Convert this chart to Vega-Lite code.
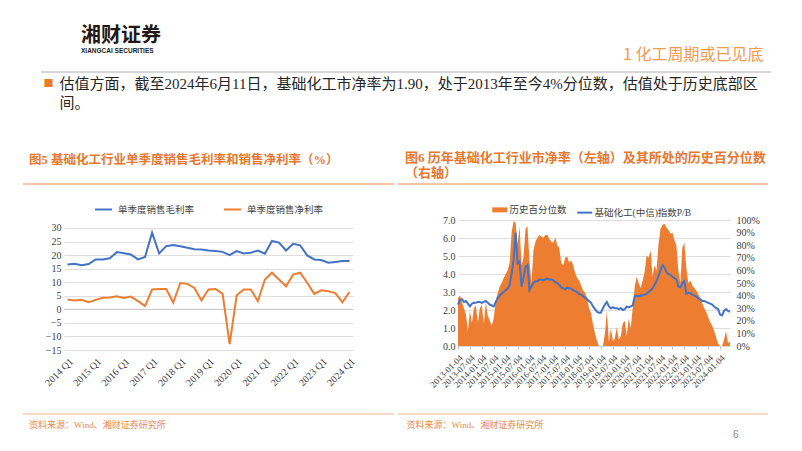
{
  "$schema": "https://vega.github.io/schema/vega-lite/v6.json",
  "background": "white",
  "padding": {"left": 22, "top": 26, "right": 0, "bottom": 0},
  "config": {
    "view": {"stroke": null},
    "font": "Liberation Serif, Noto Sans CJK SC",
    "axis": {"labelFont": "Liberation Serif", "labelFontSize": 10, "labelColor": "#404040", "titleFont": "Liberation Serif, Noto Sans CJK SC", "labelOverlap": false},
    "legend": {"labelColor": "#404040"}
  },
  "spacing": 42,
  "resolve": {"scale": {"color": "independent"}, "legend": {"color": "independent"}},
  "vconcat": [
    {
      "width": 748,
      "height": 1,
      "data": {"values": [{}]},
      "title": {"text": "湘财证券", "subtitle": "XIANGCAI SECURITIES", "anchor": "start", "frame": "group", "orient": "top", "offset": -8.5, "dx": 58, "font": "Noto Sans CJK SC", "fontSize": 20, "fontWeight": "bold", "color": "#231815", "subtitleFont": "Liberation Sans", "subtitleFontSize": 6.5, "subtitleFontWeight": "bold", "subtitleColor": "#231815", "subtitlePadding": 2},
      "layer": [
        {
          "mark": {"type": "rule", "color": "#C9C9C9", "strokeWidth": 1.5},
          "encoding": {
            "x": {"datum": 0, "type": "quantitative", "scale": {"domain": [0, 1], "range": [18, 748]}, "axis": {"orient": "top", "domain": false, "ticks": false, "labels": false, "grid": false, "title": "1 化工周期或已见底", "titleX": 740, "titleY": -13, "titleAlign": "right", "titleBaseline": "alphabetic", "titleAnchor": "end", "titleFont": "Noto Sans CJK SC", "titleFontSize": 16, "titleFontWeight": "normal", "titleColor": "#F39A4E"}},
            "x2": {"datum": 1},
            "y": {"datum": 1, "type": "quantitative", "scale": {"domain": [0, 1]}, "axis": {"orient": "left", "domain": false, "ticks": false, "labels": false, "grid": false, "title": "■", "titleAngle": 0, "titleX": 20, "titleY": 11, "titleAlign": "left", "titleBaseline": "middle", "titleFont": "Noto Sans CJK SC", "titleFontSize": 10, "titleFontWeight": "normal", "titleColor": "#F07C22"}}
          }
        },
        {
          "mark": {"type": "rule", "opacity": 0},
          "encoding": {
            "x": {"datum": 0, "type": "quantitative", "scale": {"domain": [0, 1]}, "axis": {"orient": "bottom", "domain": false, "ticks": false, "labels": false, "grid": false, "title": ["估值方面，截至2024年6月11日，基础化工市净率为1.90，处于2013年至今4%分位数，估值处于历史底部区", "间。"], "titleX": 36, "titleY": 3, "titleAlign": "left", "titleBaseline": "top", "titleAnchor": "start", "titleFontSize": 15, "titleFontWeight": "normal", "titleColor": "#262626", "titleLineHeight": 19, "titleLimit": 2000}},
            "x2": {"datum": 1},
            "y": {"datum": 1, "type": "quantitative"}
          }
        }
      ],
      "resolve": {"scale": {"x": "independent"}}
    },
    {
      "spacing": 2,
      "resolve": {"scale": {"color": "independent"}, "legend": {"color": "independent"}},
      "hconcat": [
        {
          "bounds": "flush",
          "center": true,
          "spacing": 0,
          "resolve": {"scale": {"color": "independent"}, "legend": {"color": "independent"}},
          "vconcat": [
            {
              "width": 371,
              "height": 36,
              "data": {"values": [{}]},
              "title": {"text": "图5 基础化工行业单季度销售毛利率和销售净利率（%）", "anchor": "start", "frame": "group", "offset": 17, "dx": 6, "fontSize": 12.5, "fontWeight": "bold", "color": "#E6782F", "font": "Liberation Serif, Noto Sans CJK SC"},
              "mark": {"type": "rule", "color": "#EB8D52", "strokeWidth": 1.2},
              "encoding": {
                "x": {"datum": 0, "type": "quantitative", "scale": {"domain": [0, 1]}, "axis": null},
                "x2": {"datum": 1},
                "y": {"datum": 1, "type": "quantitative", "scale": {"domain": [0, 1]}, "axis": null}
              }
            },
            {
              "width": 289,
              "height": 130,
              "layer": [
                {
                  "data": {"values": [{}]},
                  "mark": {"type": "rule", "color": "#C8C8C8", "strokeWidth": 1},
                  "encoding": {"y": {"datum": 0, "type": "quantitative", "scale": {"domain": [-15, 32.95], "nice": false, "zero": false}, "axis": {"values": [-15, -10, -5, 0, 5, 10, 15, 20, 25, 30], "labelOverlap": false, "domain": false, "ticks": false, "grid": true, "gridColor": "#DEDEDE", "labelPadding": 3, "title": null}}}
                },
                {
                  "data": {"values": [
                    {"q": "2014 Q1", "单季度销售毛利率": 16.5, "单季度销售净利率": 3.6},
                    {"q": "2014 Q2", "单季度销售毛利率": 16.8, "单季度销售净利率": 3.3},
                    {"q": "2014 Q3", "单季度销售毛利率": 16.3, "单季度销售净利率": 3.5},
                    {"q": "2014 Q4", "单季度销售毛利率": 16.7, "单季度销售净利率": 2.6},
                    {"q": "2015 Q1", "单季度销售毛利率": 18.4, "单季度销售净利率": 3.5},
                    {"q": "2015 Q2", "单季度销售毛利率": 18.4, "单季度销售净利率": 4.3},
                    {"q": "2015 Q3", "单季度销售毛利率": 18.8, "单季度销售净利率": 4.4},
                    {"q": "2015 Q4", "单季度销售毛利率": 21.1, "单季度销售净利率": 4.8},
                    {"q": "2016 Q1", "单季度销售毛利率": 20.7, "单季度销售净利率": 4.2},
                    {"q": "2016 Q2", "单季度销售毛利率": 20.2, "单季度销售净利率": 4.7},
                    {"q": "2016 Q3", "单季度销售毛利率": 18.4, "单季度销售净利率": 3.0},
                    {"q": "2016 Q4", "单季度销售毛利率": 19.3, "单季度销售净利率": 1.2},
                    {"q": "2017 Q1", "单季度销售毛利率": 28.3, "单季度销售净利率": 7.3},
                    {"q": "2017 Q2", "单季度销售毛利率": 20.6, "单季度销售净利率": 7.5},
                    {"q": "2017 Q3", "单季度销售毛利率": 23.3, "单季度销售净利率": 7.5},
                    {"q": "2017 Q4", "单季度销售毛利率": 23.7, "单季度销售净利率": 2.5},
                    {"q": "2018 Q1", "单季度销售毛利率": 23.3, "单季度销售净利率": 9.7},
                    {"q": "2018 Q2", "单季度销售毛利率": 22.7, "单季度销售净利率": 9.4},
                    {"q": "2018 Q3", "单季度销售毛利率": 22.2, "单季度销售净利率": 7.9},
                    {"q": "2018 Q4", "单季度销售毛利率": 22.1, "单季度销售净利率": 3.3},
                    {"q": "2019 Q1", "单季度销售毛利率": 21.7, "单季度销售净利率": 7.3},
                    {"q": "2019 Q2", "单季度销售毛利率": 21.5, "单季度销售净利率": 7.5},
                    {"q": "2019 Q3", "单季度销售毛利率": 21.2, "单季度销售净利率": 5.7},
                    {"q": "2019 Q4", "单季度销售毛利率": 20.0, "单季度销售净利率": -12.8},
                    {"q": "2020 Q1", "单季度销售毛利率": 21.5, "单季度销售净利率": 5.2},
                    {"q": "2020 Q2", "单季度销售毛利率": 20.6, "单季度销售净利率": 7.3},
                    {"q": "2020 Q3", "单季度销售毛利率": 20.9, "单季度销售净利率": 7.3},
                    {"q": "2020 Q4", "单季度销售毛利率": 21.7, "单季度销售净利率": 3.0},
                    {"q": "2021 Q1", "单季度销售毛利率": 20.5, "单季度销售净利率": 11.0},
                    {"q": "2021 Q2", "单季度销售毛利率": 25.2, "单季度销售净利率": 13.5},
                    {"q": "2021 Q3", "单季度销售毛利率": 24.6, "单季度销售净利率": 11.0},
                    {"q": "2021 Q4", "单季度销售毛利率": 21.7, "单季度销售净利率": 8.5},
                    {"q": "2022 Q1", "单季度销售毛利率": 24.2, "单季度销售净利率": 12.8},
                    {"q": "2022 Q2", "单季度销售毛利率": 23.6, "单季度销售净利率": 13.5},
                    {"q": "2022 Q3", "单季度销售毛利率": 19.9, "单季度销售净利率": 9.8},
                    {"q": "2022 Q4", "单季度销售毛利率": 18.4, "单季度销售净利率": 5.7},
                    {"q": "2023 Q1", "单季度销售毛利率": 18.2, "单季度销售净利率": 7.0},
                    {"q": "2023 Q2", "单季度销售毛利率": 17.2, "单季度销售净利率": 6.7},
                    {"q": "2023 Q3", "单季度销售毛利率": 17.5, "单季度销售净利率": 6.0},
                    {"q": "2023 Q4", "单季度销售毛利率": 17.8, "单季度销售净利率": 2.6},
                    {"q": "2024 Q1", "单季度销售毛利率": 17.8, "单季度销售净利率": 6.4}
                  ]},
                  "transform": [{"fold": ["单季度销售毛利率", "单季度销售净利率"], "as": ["s", "v"]}],
                  "mark": {"type": "line", "strokeWidth": 2},
                  "encoding": {
                    "x": {"field": "q", "type": "ordinal", "sort": null, "scale": {"type": "point", "padding": 0.5}, "axis": {"values": ["2014 Q1", "2015 Q1", "2016 Q1", "2017 Q1", "2018 Q1", "2019 Q1", "2020 Q1", "2021 Q1", "2022 Q1", "2023 Q1", "2024 Q1"], "labelAngle": -45, "labelPadding": 6, "labelOverlap": false, "domain": false, "ticks": false, "grid": false, "title": null}},
                    "y": {"field": "v", "type": "quantitative", "scale": {"domain": [-15, 32.95], "nice": false, "zero": false}, "axis": {"values": [-15, -10, -5, 0, 5, 10, 15, 20, 25, 30], "labelOverlap": false, "domain": false, "ticks": false, "grid": true, "gridColor": "#DEDEDE", "labelPadding": 3, "title": null}},
                    "color": {"field": "s", "type": "nominal", "scale": {"domain": ["单季度销售毛利率", "单季度销售净利率"], "range": ["#4472C4", "#ED7D31"]}, "legend": {"orient": "none", "legendX": 30, "legendY": -20, "direction": "horizontal", "title": null, "symbolType": "stroke", "symbolStrokeWidth": 2, "symbolSize": 289, "labelFont": "Noto Sans CJK SC", "labelFontSize": 9.5, "labelOffset": 5, "columnPadding": 25}}
                  }
                }
              ]
            },
            {
              "width": 371,
              "height": 64,
              "data": {"values": [{}]},
              "title": {"text": "资料来源：Wind、湘财证券研究所", "orient": "bottom", "anchor": "start", "frame": "group", "offset": 6, "dx": 6, "fontSize": 9, "fontWeight": "normal", "color": "#E9894A", "font": "Liberation Serif, Noto Sans CJK SC"},
              "mark": {"type": "rule", "color": "#F2B48C", "strokeWidth": 1.2},
              "encoding": {
                "x": {"datum": 0, "type": "quantitative", "scale": {"domain": [0, 1]}, "axis": null},
                "x2": {"datum": 1},
                "y": {"datum": 0, "type": "quantitative", "scale": {"domain": [0, 1]}, "axis": null}
              }
            }
          ]
        },
        {
          "bounds": "flush",
          "center": true,
          "spacing": 0,
          "resolve": {"scale": {"color": "independent"}, "legend": {"color": "independent"}},
          "vconcat": [
            {
              "width": 392,
              "height": 36,
              "data": {"values": [{}]},
              "title": {"text": ["图6 历年基础化工行业市净率（左轴）及其所处的历史百分位数", "（右轴）"], "anchor": "start", "frame": "group", "offset": 3, "dx": 7, "lineHeight": 15, "fontSize": 13, "fontWeight": "bold", "color": "#E6782F", "font": "Liberation Serif, Noto Sans CJK SC"},
              "mark": {"type": "rule", "color": "#EB8D52", "strokeWidth": 1.2},
              "encoding": {
                "x": {"datum": 0, "type": "quantitative", "scale": {"domain": [0, 1], "range": [0, 370]}, "axis": null},
                "x2": {"datum": 1},
                "y": {"datum": 1, "type": "quantitative", "scale": {"domain": [0, 1]}, "axis": null}
              }
            },
            {
              "width": 272,
              "height": 126,
              "data": {"values": [
                {"d": "2013-01-04", "pb": 2.3, "pct": 0.38},
                {"d": "2013-02-04", "pb": 2.55, "pct": 0.40},
                {"d": "2013-03-04", "pb": 2.6, "pct": 0.35},
                {"d": "2013-04-04", "pb": 2.45, "pct": 0.30},
                {"d": "2013-05-04", "pb": 2.5, "pct": 0.25},
                {"d": "2013-06-04", "pb": 2.35, "pct": 0.12},
                {"d": "2013-07-04", "pb": 2.2, "pct": 0.28},
                {"d": "2013-08-04", "pb": 2.35, "pct": 0.18},
                {"d": "2013-09-04", "pb": 2.4, "pct": 0.30},
                {"d": "2013-10-04", "pb": 2.4, "pct": 0.32},
                {"d": "2013-11-04", "pb": 2.45, "pct": 0.18},
                {"d": "2013-12-04", "pb": 2.45, "pct": 0.30},
                {"d": "2014-01-04", "pb": 2.4, "pct": 0.33},
                {"d": "2014-02-04", "pb": 2.45, "pct": 0.17},
                {"d": "2014-03-04", "pb": 2.5, "pct": 0.35},
                {"d": "2014-04-04", "pb": 2.4, "pct": 0.24},
                {"d": "2014-05-04", "pb": 2.3, "pct": 0.20},
                {"d": "2014-06-04", "pb": 2.25, "pct": 0.16},
                {"d": "2014-07-04", "pb": 2.2, "pct": 0.22},
                {"d": "2014-08-04", "pb": 2.45, "pct": 0.36},
                {"d": "2014-09-04", "pb": 2.65, "pct": 0.42},
                {"d": "2014-10-04", "pb": 2.8, "pct": 0.47},
                {"d": "2014-11-04", "pb": 2.9, "pct": 0.50},
                {"d": "2014-12-04", "pb": 3.0, "pct": 0.54},
                {"d": "2015-01-04", "pb": 3.1, "pct": 0.57},
                {"d": "2015-02-04", "pb": 3.2, "pct": 0.60},
                {"d": "2015-03-04", "pb": 3.4, "pct": 0.66},
                {"d": "2015-04-04", "pb": 4.0, "pct": 0.90},
                {"d": "2015-05-04", "pb": 4.8, "pct": 0.99},
                {"d": "2015-06-04", "pb": 6.3, "pct": 0.98},
                {"d": "2015-07-04", "pb": 4.6, "pct": 0.80},
                {"d": "2015-08-04", "pb": 4.7, "pct": 0.95},
                {"d": "2015-09-04", "pb": 3.3, "pct": 0.64},
                {"d": "2015-10-04", "pb": 3.8, "pct": 0.70},
                {"d": "2015-11-04", "pb": 4.4, "pct": 0.93},
                {"d": "2015-12-04", "pb": 4.5, "pct": 0.95},
                {"d": "2016-01-04", "pb": 3.1, "pct": 0.68},
                {"d": "2016-02-04", "pb": 3.3, "pct": 0.50},
                {"d": "2016-03-04", "pb": 3.5, "pct": 0.76},
                {"d": "2016-04-04", "pb": 3.6, "pct": 0.83},
                {"d": "2016-05-04", "pb": 3.6, "pct": 0.86},
                {"d": "2016-06-04", "pb": 3.7, "pct": 0.88},
                {"d": "2016-07-04", "pb": 3.7, "pct": 0.87},
                {"d": "2016-08-04", "pb": 3.65, "pct": 0.86},
                {"d": "2016-09-04", "pb": 3.7, "pct": 0.88},
                {"d": "2016-10-04", "pb": 3.75, "pct": 0.88},
                {"d": "2016-11-04", "pb": 3.7, "pct": 0.85},
                {"d": "2016-12-04", "pb": 3.7, "pct": 0.83},
                {"d": "2017-01-04", "pb": 3.65, "pct": 0.82},
                {"d": "2017-02-04", "pb": 3.55, "pct": 0.86},
                {"d": "2017-03-04", "pb": 3.5, "pct": 0.80},
                {"d": "2017-04-04", "pb": 3.4, "pct": 0.78},
                {"d": "2017-05-04", "pb": 3.25, "pct": 0.66},
                {"d": "2017-06-04", "pb": 3.2, "pct": 0.64},
                {"d": "2017-07-04", "pb": 3.15, "pct": 0.70},
                {"d": "2017-08-04", "pb": 3.25, "pct": 0.71},
                {"d": "2017-09-04", "pb": 3.2, "pct": 0.66},
                {"d": "2017-10-04", "pb": 3.2, "pct": 0.68},
                {"d": "2017-11-04", "pb": 3.1, "pct": 0.64},
                {"d": "2017-12-04", "pb": 3.05, "pct": 0.58},
                {"d": "2018-01-04", "pb": 3.0, "pct": 0.54},
                {"d": "2018-02-04", "pb": 2.9, "pct": 0.52},
                {"d": "2018-03-04", "pb": 2.85, "pct": 0.48},
                {"d": "2018-04-04", "pb": 2.75, "pct": 0.44},
                {"d": "2018-05-04", "pb": 2.7, "pct": 0.42},
                {"d": "2018-06-04", "pb": 2.6, "pct": 0.38},
                {"d": "2018-07-04", "pb": 2.5, "pct": 0.30},
                {"d": "2018-08-04", "pb": 2.4, "pct": 0.26},
                {"d": "2018-09-04", "pb": 2.2, "pct": 0.17},
                {"d": "2018-10-04", "pb": 2.05, "pct": 0.10},
                {"d": "2018-11-04", "pb": 1.9, "pct": 0.04},
                {"d": "2018-12-04", "pb": 1.85, "pct": 0.0},
                {"d": "2019-01-04", "pb": 1.85, "pct": 0.0},
                {"d": "2019-02-04", "pb": 2.1, "pct": 0.0},
                {"d": "2019-03-04", "pb": 2.3, "pct": 0.10},
                {"d": "2019-04-04", "pb": 2.45, "pct": 0.28},
                {"d": "2019-05-04", "pb": 2.2, "pct": 0.03},
                {"d": "2019-06-04", "pb": 2.1, "pct": 0.14},
                {"d": "2019-07-04", "pb": 2.15, "pct": 0.04},
                {"d": "2019-08-04", "pb": 2.1, "pct": 0.06},
                {"d": "2019-09-04", "pb": 2.1, "pct": 0.15},
                {"d": "2019-10-04", "pb": 2.05, "pct": 0.05},
                {"d": "2019-11-04", "pb": 2.1, "pct": 0.08},
                {"d": "2019-12-04", "pb": 2.0, "pct": 0.18},
                {"d": "2020-01-04", "pb": 2.05, "pct": 0.20},
                {"d": "2020-02-04", "pb": 2.2, "pct": 0.08},
                {"d": "2020-03-04", "pb": 2.15, "pct": 0.22},
                {"d": "2020-04-04", "pb": 2.2, "pct": 0.14},
                {"d": "2020-05-04", "pb": 2.25, "pct": 0.30},
                {"d": "2020-06-04", "pb": 2.75, "pct": 0.47},
                {"d": "2020-07-04", "pb": 2.8, "pct": 0.55},
                {"d": "2020-08-04", "pb": 2.75, "pct": 0.50},
                {"d": "2020-09-04", "pb": 2.8, "pct": 0.46},
                {"d": "2020-10-04", "pb": 2.8, "pct": 0.52},
                {"d": "2020-11-04", "pb": 2.85, "pct": 0.59},
                {"d": "2020-12-04", "pb": 2.9, "pct": 0.72},
                {"d": "2021-01-04", "pb": 3.0, "pct": 0.70},
                {"d": "2021-02-04", "pb": 3.1, "pct": 0.76},
                {"d": "2021-03-04", "pb": 3.2, "pct": 0.55},
                {"d": "2021-04-04", "pb": 3.4, "pct": 0.64},
                {"d": "2021-05-04", "pb": 3.6, "pct": 0.60},
                {"d": "2021-06-04", "pb": 3.9, "pct": 0.81},
                {"d": "2021-07-04", "pb": 4.2, "pct": 0.93},
                {"d": "2021-08-04", "pb": 4.5, "pct": 0.96},
                {"d": "2021-09-04", "pb": 4.35, "pct": 0.97},
                {"d": "2021-10-04", "pb": 4.1, "pct": 0.94},
                {"d": "2021-11-04", "pb": 4.0, "pct": 0.92},
                {"d": "2021-12-04", "pb": 3.95, "pct": 0.89},
                {"d": "2022-01-04", "pb": 3.85, "pct": 0.90},
                {"d": "2022-02-04", "pb": 3.75, "pct": 0.84},
                {"d": "2022-03-04", "pb": 3.7, "pct": 0.80},
                {"d": "2022-04-04", "pb": 3.3, "pct": 0.60},
                {"d": "2022-05-04", "pb": 3.25, "pct": 0.50},
                {"d": "2022-06-04", "pb": 3.5, "pct": 0.78},
                {"d": "2022-07-04", "pb": 3.6, "pct": 0.82},
                {"d": "2022-08-04", "pb": 2.9, "pct": 0.62},
                {"d": "2022-09-04", "pb": 2.95, "pct": 0.50},
                {"d": "2022-10-04", "pb": 2.95, "pct": 0.52},
                {"d": "2022-11-04", "pb": 2.85, "pct": 0.48},
                {"d": "2022-12-04", "pb": 2.8, "pct": 0.46},
                {"d": "2023-01-04", "pb": 2.75, "pct": 0.44},
                {"d": "2023-02-04", "pb": 2.65, "pct": 0.41},
                {"d": "2023-03-04", "pb": 2.6, "pct": 0.38},
                {"d": "2023-04-04", "pb": 2.5, "pct": 0.34},
                {"d": "2023-05-04", "pb": 2.5, "pct": 0.30},
                {"d": "2023-06-04", "pb": 2.45, "pct": 0.27},
                {"d": "2023-07-04", "pb": 2.4, "pct": 0.23},
                {"d": "2023-08-04", "pb": 2.35, "pct": 0.19},
                {"d": "2023-09-04", "pb": 2.3, "pct": 0.16},
                {"d": "2023-10-04", "pb": 2.2, "pct": 0.12},
                {"d": "2023-11-04", "pb": 2.1, "pct": 0.07},
                {"d": "2023-12-04", "pb": 2.05, "pct": 0.02},
                {"d": "2024-01-04", "pb": 1.75, "pct": 0.0},
                {"d": "2024-02-04", "pb": 1.7, "pct": 0.0},
                {"d": "2024-03-04", "pb": 1.95, "pct": 0.05},
                {"d": "2024-04-04", "pb": 2.05, "pct": 0.12},
                {"d": "2024-05-04", "pb": 1.95, "pct": 0.02},
                {"d": "2024-06-11", "pb": 1.9, "pct": 0.04}
              ]},
              "layer": [
                {
                  "mark": {"type": "area"},
                  "encoding": {
                    "x": {"field": "d", "type": "ordinal", "sort": null, "scale": {"type": "point", "padding": 0}, "axis": {"values": ["2013-01-04", "2013-07-04", "2014-01-04", "2014-07-04", "2015-01-04", "2015-07-04", "2016-01-04", "2016-07-04", "2017-01-04", "2017-07-04", "2018-01-04", "2018-07-04", "2019-01-04", "2019-07-04", "2020-01-04", "2020-07-04", "2021-01-04", "2021-07-04", "2022-01-04", "2022-07-04", "2023-01-04", "2023-07-04", "2024-01-04"], "labelAngle": -45, "labelFontSize": 9, "labelPadding": 4, "labelOverlap": false, "domain": true, "domainColor": "#D9D9D9", "ticks": true, "tickSize": 3, "tickColor": "#BFBFBF", "grid": false, "title": null}},
                    "y": {"field": "pct", "type": "quantitative", "scale": {"domain": [0, 1], "nice": false}, "axis": {"orient": "right", "values": [0, 0.1, 0.2, 0.3, 0.4, 0.5, 0.6, 0.7, 0.8, 0.9, 1], "format": ".0%", "labelOverlap": false, "grid": false, "domain": false, "ticks": false, "labelPadding": 6, "title": null}},
                    "color": {"datum": "历史百分位数", "type": "nominal", "scale": {"domain": ["历史百分位数", "基础化工(中信)指数P/B"], "range": ["#ED7D31", "#4472C4"]}, "legend": {"orient": "none", "legendX": 37, "legendY": -15, "direction": "horizontal", "title": null, "symbolType": "stroke", "symbolSize": 225, "symbolStrokeWidth": 2, "labelFont": "Liberation Serif, Noto Sans CJK SC", "labelFontSize": 9.5, "labelOffset": 5, "columnPadding": 6, "encode": {"symbols": {"update": {"strokeWidth": {"signal": "datum.value === '历史百分位数' ? 5 : 2"}, "stroke": {"scale": "color", "field": "value"}}}}}}
                  }
                },
                {
                  "mark": {"type": "line", "strokeWidth": 2},
                  "encoding": {
                    "x": {"field": "d", "type": "ordinal", "sort": null},
                    "y": {"field": "pb", "type": "quantitative", "scale": {"domain": [0, 7], "nice": false}, "axis": {"orient": "left", "values": [0, 1, 2, 3, 4, 5, 6, 7], "format": ".1f", "labelOverlap": false, "grid": true, "gridColor": "#DEDEDE", "domain": false, "ticks": false, "labelPadding": 3, "title": null}},
                    "color": {"datum": "基础化工(中信)指数P/B", "type": "nominal"}
                  }
                }
              ],
              "resolve": {"scale": {"y": "independent"}}
            },
            {
              "width": 392,
              "height": 68,
              "data": {"values": [{}]},
              "title": {"text": "6", "orient": "bottom", "anchor": "start", "frame": "group", "offset": 1, "dx": 335, "fontSize": 10, "fontWeight": "normal", "color": "#8C8C8C", "font": "Liberation Sans"},
              "mark": {"type": "rule", "color": "#F2B48C", "strokeWidth": 1.2},
              "encoding": {
                "x": {"datum": 0, "type": "quantitative", "scale": {"domain": [0, 1], "range": [0, 370]}, "axis": {"orient": "bottom", "domain": false, "ticks": false, "labels": false, "grid": false, "title": "资料来源：Wind、湘财证券研究所", "titleX": 8, "titleY": 6, "titleAlign": "left", "titleBaseline": "top", "titleFont": "Liberation Serif, Noto Sans CJK SC", "titleFontSize": 9, "titleFontWeight": "normal", "titleColor": "#E9894A"}},
                "x2": {"datum": 1},
                "y": {"datum": 0, "type": "quantitative", "scale": {"domain": [0, 1]}, "axis": null}
              }
            }
          ]
        }
      ]
    }
  ]
}
